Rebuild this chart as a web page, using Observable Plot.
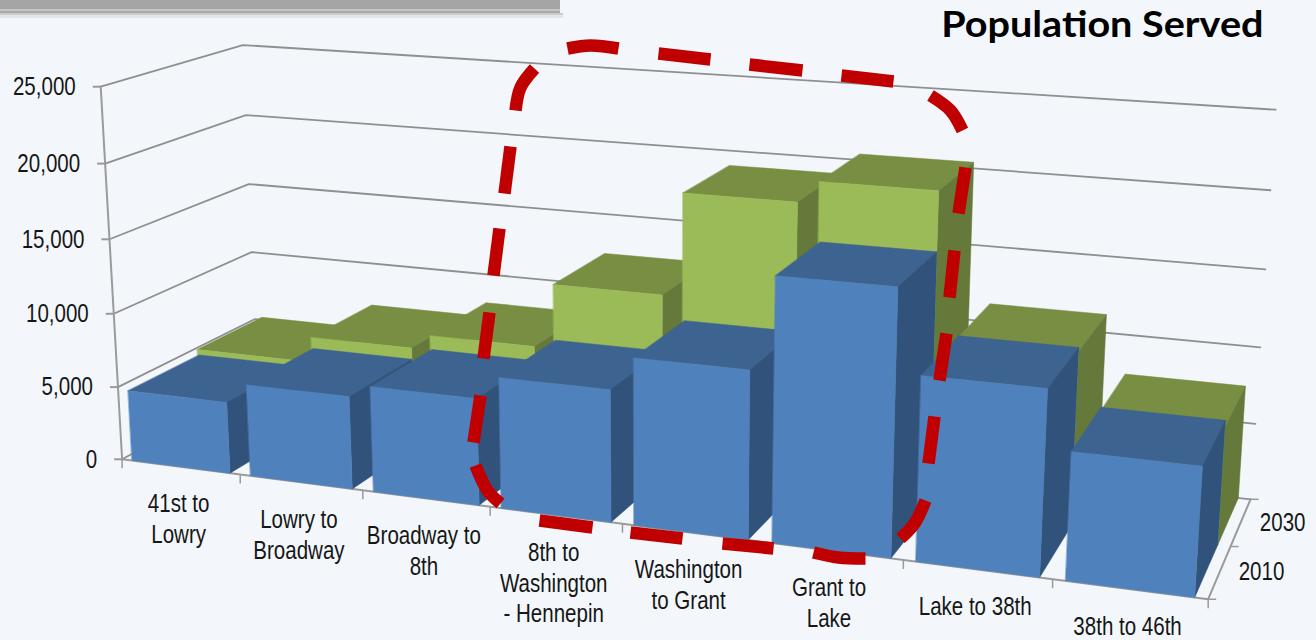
<!DOCTYPE html>
<html>
<head>
<meta charset="utf-8">
<script src="https://cdn.jsdelivr.net/npm/d3@7"></script>
<script src="https://cdn.jsdelivr.net/npm/@observablehq/plot@0.6"></script>
<style>
  html, body { margin: 0; padding: 0; background: #f3f7fb; overflow: hidden; }
</style>
</head>
<body>
<div id="chart"></div>
<script>
// Population served by segment of the corridor, 2010 and 2030.
const categories = ["41st to\nLowry", "Lowry to\nBroadway", "Broadway to\n8th", "8th to\nWashington\n- Hennepin",
  "Washington\nto Grant", "Grant to\nLake", "Lake to 38th", "38th to 46th"];
const pop2010 = [4830, 6180, 7000, 8530, 10700, 16600, 11450, 7850];
const pop2030 = [5200, 6950, 7950, 12250, 19000, 20400, 11200, 7400];
const years = ["2010", "2030"];
const valueTicks = [0, 5000, 10000, 15000, 20000, 25000];
const valueMax = 25000;

// Camera for the 3D box: [across, depth, height (0-1), screen x, screen y].
const cameraFit = [
  [0, 0, 0, 121, 460], [0, 0, .2, 118, 386], [0, 0, .4, 114, 313], [0, 0, .6, 109, 239],
  [0, 0, .8, 105, 163], [0, 0, 1, 100, 86], [0, 1, 1, 242, 44], [0, 1, .8, 245, 114],
  [0, 1, .6, 248, 184], [0, 1, .4, 252, 252], [0, 1, .2, 254, 319], [1, 1, 1, 1275, 110],
  [1, 1, .8, 1270, 190], [1, 1, .6, 1265, 269], [1, 1, .4, 1260, 347], [1, 1, .2, 1255, 423],
  [1, 1, 0, 1250, 498], [1, 0, 0, 1208, 600], [.25, 0, 0, 362, 490], [.5, 0, 0, 621, 523],
  [.75, 0, 0, 903, 558]
];

// Least-squares solution of the 3x4 projective camera (last term fixed to 1).
function solveCamera(points) {
  const n = 11;
  const A = Array.from({length: n}, () => new Array(n + 1).fill(0));
  const add = (row, rhs) => {
    for (let i = 0; i < n; i++) {
      for (let j = 0; j < n; j++) A[i][j] += row[i] * row[j];
      A[i][n] += row[i] * rhs;
    }
  };
  for (const [u, w, h, sx, sy] of points) {
    add([u, w, h, 1, 0, 0, 0, 0, -sx * u, -sx * w, -sx * h], sx);
    add([0, 0, 0, 0, u, w, h, 1, -sy * u, -sy * w, -sy * h], sy);
  }
  for (let c = 0; c < n; c++) {
    let p = c;
    for (let r = c + 1; r < n; r++) if (Math.abs(A[r][c]) > Math.abs(A[p][c])) p = r;
    [A[c], A[p]] = [A[p], A[c]];
    for (let r = 0; r < n; r++) {
      if (r === c) continue;
      const f = A[r][c] / A[c][c];
      for (let k = c; k <= n; k++) A[r][k] -= f * A[c][k];
    }
  }
  return A.map((row, i) => row[n] / row[i]);
}
const m = solveCamera(cameraFit);
const project = (u, w, h) => {
  const d = m[8] * u + m[9] * w + m[10] * h + 1;
  return [(m[0] * u + m[1] * w + m[2] * h + m[3]) / d, (m[4] * u + m[5] * w + m[6] * h + m[7]) / d];
};

// Bars sit inside their category slot and series lane.
const slots = [[0.085, 0.915], [0.07, 0.915]];
const lanes = [[0, 0.5], [0.5, 1]];
const palettes = [
  {front: "#4f81bd", top: "#3d6390", side: "#31527a"},
  {front: "#9bbb59", top: "#788f43", side: "#65793a"}
];

const faces = [];
function addFace(id, color, corners) {
  corners.forEach(([u, w, h]) => {
    const [px, py] = project(u, w, h);
    faces.push({id, color, px, py});
  });
}
[pop2030, pop2010].forEach((values) => {
  const s = values === pop2010 ? 0 : 1;
  values.forEach((v, i) => {
    const n = categories.length;
    const u0 = (i + slots[s][0]) / n, u1 = (i + slots[s][1]) / n;
    const [w0, w1] = lanes[s];
    const h = v / valueMax;
    const pal = palettes[s];
    addFace(`${s}-${i}-t`, pal.top, [[u0, w0, h], [u1, w0, h], [u1, w1, h], [u0, w1, h]]);
    addFace(`${s}-${i}-s`, pal.side, [[u1, w0, 0], [u1, w1, 0], [u1, w1, h], [u1, w0, h]]);
    addFace(`${s}-${i}-f`, pal.front, [[u0, w0, 0], [u1, w0, 0], [u1, w0, h], [u0, w0, h]]);
  });
});

// Box wireframe: gridlines run along the left wall and then the back wall.
const grid = valueTicks.flatMap((t) => {
  const h = t / valueMax;
  return [[0, 0, h], [0, 1, h], [1, 1, h]].map(([u, w, hh]) => {
    const [px, py] = project(u, w, hh);
    return {t, px, py};
  });
});
const edge = (a, b, id) => [a, b].map((c) => {
  const [px, py] = project(...c);
  return {id, px, py};
});
const axisLines = [
  ...edge([0, 0, 0], [0, 0, 1], "value"),
  ...edge([0, 0, 0], [1, 0, 0], "category"),
  ...edge([1, 0, 0], [1, 1, 0], "depth")
];

const valueTickRows = valueTicks.map((t) => {
  const [px, py] = project(0, 0, t / valueMax);
  return {t, px, py, label: d3.format(",")(t)};
});
const categoryTickRows = d3.range(categories.length + 1).map((i) => {
  const [px, py] = project(i / categories.length, 0, 0);
  return {px, py};
});
const categoryLabelRows = categories.map((label, i) => {
  const [px, py] = project((i + .5) / categories.length, 0, 0);
  return {px, py, label};
});
const depthTickRows = [0, .5, 1].map((w) => {
  const [px, py] = project(1, w, 0);
  return {px, py};
});
const depthLabelRows = years.map((label, i) => {
  const [px, py] = project(1, (i + .5) / years.length, 0);
  return {px, py, label};
});

// Rounded highlight drawn around the central segments, one run per dash.
const highlightDashes = [
  [[500, 503], [487, 490], [475, 465]],
  [[473, 442], [480, 395]],
  [[483, 358], [489, 312]],
  [[493, 275], [499, 228]],
  [[504, 193], [510, 146]],
  [[515, 110], [520, 87], [534, 68]],
  [[567, 48], [590, 45], [618, 48]],
  [[658, 53], [710, 59]],
  [[749, 64], [802, 70]],
  [[841, 75], [893, 81]],
  [[930, 95], [950, 110], [962, 130]],
  [[965, 167], [958, 213]],
  [[954, 250], [949, 297]],
  [[946, 333], [939, 380]],
  [[934, 416], [928, 463]],
  [[925, 500], [914, 523], [900, 538]],
  [[865, 558], [838, 557], [813, 552]],
  [[773, 548], [722, 543]],
  [[682, 538], [630, 532]],
  [[592, 527], [539, 520]]
];
const highlightRows = highlightDashes.flatMap((dash, id) => dash.map(([px, py]) => ({id, px, py})));

// Bottom edge of the header panel with its soft shadow.
const headerBands = [
  {x2: 563, y1: 13, y2: 15, color: "#c9cbcd"},
  {x2: 563, y1: 15, y2: 18, color: "#e4e7ea"},
  {x2: 560, y1: 0, y2: 9, color: "#a5a5a5"},
  {x2: 560, y1: 9, y2: 11, color: "#c6c6c6"},
  {x2: 560, y1: 11, y2: 13, color: "#a9a9a9"}
];

const axisFont = {fontFamily: "'Liberation Sans', Arial, sans-serif", fontSize: 26, fill: "#161616", className: "axis-label"};
const lineGrey = "#8f8f8f";

const chart = Plot.plot({
  width: 1316,
  height: 640,
  margin: 0,
  style: {background: "transparent"},
  x: {domain: [0, 1316], range: [0, 1316], axis: null},
  y: {domain: [0, 640], range: [0, 640], axis: null},
  color: {type: "identity"},
  marks: [
    Plot.rect(headerBands, {x1: 0, x2: "x2", y1: "y1", y2: "y2", fill: "color"}),
    Plot.line(grid, {x: "px", y: "py", z: "t", stroke: lineGrey, strokeWidth: 1.8}),
    Plot.line(axisLines, {x: "px", y: "py", z: "id", stroke: "#9a9a9a", strokeWidth: 2}),
    Plot.link(valueTickRows, {x1: (d) => d.px - 8, x2: "px", y1: "py", y2: "py", stroke: "#9a9a9a", strokeWidth: 2}),
    Plot.link(categoryTickRows, {x1: "px", x2: "px", y1: "py", y2: (d) => d.py + 9, stroke: "#9a9a9a", strokeWidth: 1.5}),
    Plot.link(depthTickRows, {x1: "px", x2: (d) => d.px + 8, y1: "py", y2: "py", stroke: "#9a9a9a", strokeWidth: 1.5}),
    Plot.line(faces, {x: "px", y: "py", z: "id", fill: "color", stroke: "color", strokeWidth: 0.5, curve: "linear-closed"}),
    Plot.text(valueTickRows, {x: "px", y: "py", text: "label", textAnchor: "end", dx: -25, ...axisFont}),
    Plot.text(categoryLabelRows, {x: "px", y: "py", text: "label", lineAnchor: "top", lineHeight: 1.19, dx: -2, dy: 23.5, ...axisFont}),
    Plot.text(depthLabelRows, {x: "px", y: "py", text: "label", textAnchor: "start", dx: 19, ...axisFont}),
    Plot.line(highlightRows, {x: "px", y: "py", z: "id", stroke: "#c00000", strokeWidth: 12.5,
      strokeLinecap: "butt", strokeLinejoin: "miter", curve: "catmull-rom"}),
    Plot.text(["Population Served"], {x: 1263, y: 25, text: (d) => d, textAnchor: "end", className: "title-label",
      fontFamily: "Lato, 'Noto Sans', sans-serif", fontWeight: 700, fontSize: 36, fill: "#000"})
  ]
});

// The chart's type is drawn condensed; the title a little wider than its face.
const widen = (selector, factor) => chart.querySelectorAll(selector).forEach((t) => {
  t.setAttribute("transform", `${t.getAttribute("transform") || ""} scale(${factor},1)`);
});
widen("g.axis-label text", 0.79);
widen("g.title-label text", 1.1);
document.getElementById("chart").appendChild(chart);
</script>
</body>
</html>
